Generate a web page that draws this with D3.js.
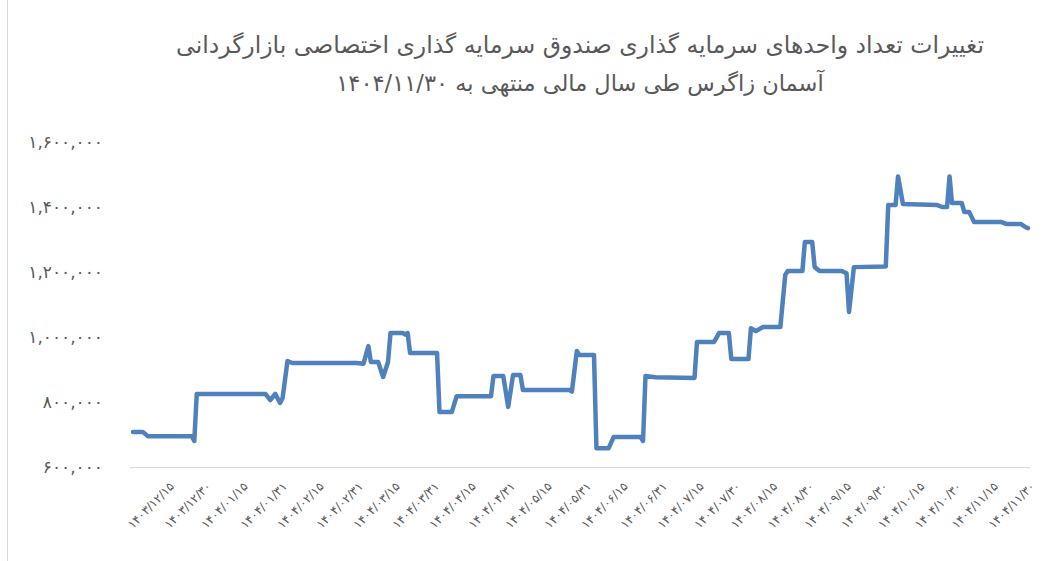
<!DOCTYPE html>
<html>
<head>
<meta charset="utf-8">
<script src="https://cdn.jsdelivr.net/npm/d3@7"></script>
<style>
  body { margin: 0; background: #fff; }
  svg { font-family: "DejaVu Sans", sans-serif; }
</style>
</head>
<body>
<div id="chart"></div>
<script>
// key points of the daily series (value holds until the next date)
const dates = [
  '1403/12/01', '1403/12/05', '1403/12/07', '1403/12/25', '1403/12/26', '1403/12/27',
  '1404/01/25', '1404/01/27', '1404/01/29', '1404/01/31', '1404/02/01', '1404/02/03',
  '1404/02/05', '1404/02/31', '1404/03/03', '1404/03/05', '1404/03/06', '1404/03/09',
  '1404/03/11', '1404/03/13', '1404/03/14', '1404/03/19', '1404/03/20', '1404/03/21',
  '1404/03/22', '1404/04/02', '1404/04/03', '1404/04/08', '1404/04/10', '1404/04/24',
  '1404/04/25', '1404/04/29', '1404/04/31', '1404/05/02', '1404/05/05', '1404/05/06',
  '1404/05/25', '1404/05/26', '1404/05/28', '1404/05/29', '1404/06/04', '1404/06/05',
  '1404/06/10', '1404/06/12', '1404/06/23', '1404/06/24', '1404/06/25', '1404/06/29',
  '1404/07/14', '1404/07/15', '1404/07/22', '1404/07/24', '1404/07/28', '1404/07/29',
  '1404/08/06', '1404/08/07', '1404/08/09', '1404/08/12', '1404/08/19', '1404/08/21',
  '1404/08/22', '1404/08/28', '1404/08/29', '1404/09/02', '1404/09/03', '1404/09/05',
  '1404/09/14', '1404/09/16', '1404/09/17', '1404/09/19', '1404/10/02', '1404/10/03',
  '1404/10/06', '1404/10/07', '1404/10/09', '1404/10/23', '1404/10/25', '1404/10/27',
  '1404/10/28', '1404/10/29', '1404/11/03', '1404/11/04', '1404/11/06', '1404/11/08',
  '1404/11/19', '1404/11/21', '1404/11/27', '1404/11/29', '1404/11/30'
];
const units = [
  708000, 708000, 695000, 695000, 680000, 825000,
  825000, 806000, 825000, 797000, 812000, 926000,
  920000, 920000, 918000, 972000, 923000, 923000,
  877000, 923000, 1012000, 1012000, 1008000, 1012000,
  951000, 951000, 769000, 769000, 818000, 818000,
  880000, 880000, 785000, 883000, 883000, 837000,
  837000, 832000, 957000, 945000, 945000, 658000,
  658000, 692000, 692000, 680000, 880000, 876000,
  874000, 985000, 985000, 1012000, 1012000, 932000,
  932000, 1027000, 1018000, 1031000, 1031000, 1191000,
  1203000, 1203000, 1292000, 1292000, 1215000, 1203000,
  1203000, 1196000, 1077000, 1215000, 1217000, 1406000,
  1406000, 1494000, 1409000, 1406000, 1400000, 1400000,
  1494000, 1412000, 1412000, 1385000, 1385000, 1354000,
  1354000, 1348000, 1348000, 1338000, 1335000
];
const tickLabels = [
  '1403/12/15', '1403/12/30', '1404/01/15', '1404/01/31', '1404/02/15', '1404/02/31',
  '1404/03/15', '1404/03/31', '1404/04/15', '1404/04/31', '1404/05/15', '1404/05/31',
  '1404/06/15', '1404/06/31', '1404/07/15', '1404/07/30', '1404/08/15', '1404/08/30',
  '1404/09/15', '1404/09/30', '1404/10/15', '1404/10/30', '1404/11/15', '1404/11/30'
];
const yTicks = [600000, 800000, 1000000, 1200000, 1400000, 1600000];
const titleLines = [
  'تغییرات تعداد واحدهای سرمایه گذاری صندوق سرمایه گذاری اختصاصی بازارگردانی',
  'آسمان زاگرس طی سال مالی منتهی به ۱۴۰۴/۱۱/۳۰'
];

// day number counted from 1403/12/01 (esfand 1403 has 30 days)
function dayNo(s) {
  const [y, m, d] = s.split('/').map(Number);
  if (y === 1403) return d;
  let n = 30;
  for (let i = 1; i < m; i++) n += i <= 6 ? 31 : 30;
  return n + d;
}
const faDigits = '۰۱۲۳۴۵۶۷۸۹';
const fa = s => String(s).replace(/[0-9]/g, c => faDigits[+c]);

const width = 1059, height = 561;
const svg = d3.select('#chart').append('svg')
  .attr('width', width).attr('height', height);

// outer border (left edge visible)
svg.append('line')
  .attr('x1', 7.5).attr('x2', 7.5).attr('y1', 0).attr('y2', height)
  .attr('stroke', '#d9d9d9');

const x = d3.scaleLinear().domain([1, 366]).range([133, 1028]);
const y = d3.scaleLinear().domain([600000, 1600000]).range([467, 142]);

// title
svg.append('g').selectAll('text')
  .data(titleLines)
  .enter().append('text')
  .attr('x', 580)
  .attr('y', (d, i) => 53 + i * 38)
  .attr('text-anchor', 'middle')
  .attr('direction', 'rtl')
  .style('font-size', (d, i) => i === 0 ? '23.5px' : '22.5px')
  .style('fill', '#595959')
  .text(d => d);

// y axis
const yAxis = svg.append('g')
  .attr('class', 'axis axis-y')
  .attr('transform', 'translate(133,0)')
  .call(d3.axisLeft(y).tickValues(yTicks).tickSize(0).tickPadding(30)
    .tickFormat(d => fa(d3.format(',')(d))));
yAxis.select('.domain').remove();
yAxis.selectAll('text').style('font-size', '17px').style('fill', '#595959')
  .style('font-family', '"DejaVu Sans", sans-serif');

// x axis
const tickDays = tickLabels.map(dayNo);
const xAxis = svg.append('g')
  .attr('class', 'axis axis-x')
  .attr('transform', 'translate(0,467)')
  .call(d3.axisBottom(x).tickValues(tickDays).tickSize(0)
    .tickFormat((d, i) => fa(tickLabels[i])));
xAxis.select('.domain').attr('stroke', '#d9d9d9').attr('d', 'M130,0.5H1030');
xAxis.selectAll('text')
  .style('font-size', '12px').style('fill', '#595959')
  .style('font-family', '"DejaVu Sans", sans-serif')
  .attr('text-anchor', 'end')
  .attr('dy', '0.35em')
  .attr('transform', 'translate(2,15) rotate(-45)');

// line
const points = dates.map((d, i) => [dayNo(d), units[i]]);
const lineFun = d3.line()
  .x(d => x(d[0]))
  .y(d => y(d[1]));
svg.append('path')
  .datum(points)
  .attr('class', 'line')
  .attr('d', lineFun)
  .style('fill', 'none')
  .style('stroke', '#4f81bd')
  .style('stroke-width', 4.5)
  .style('stroke-linejoin', 'round')
  .style('stroke-linecap', 'round');
</script>
</body>
</html>
